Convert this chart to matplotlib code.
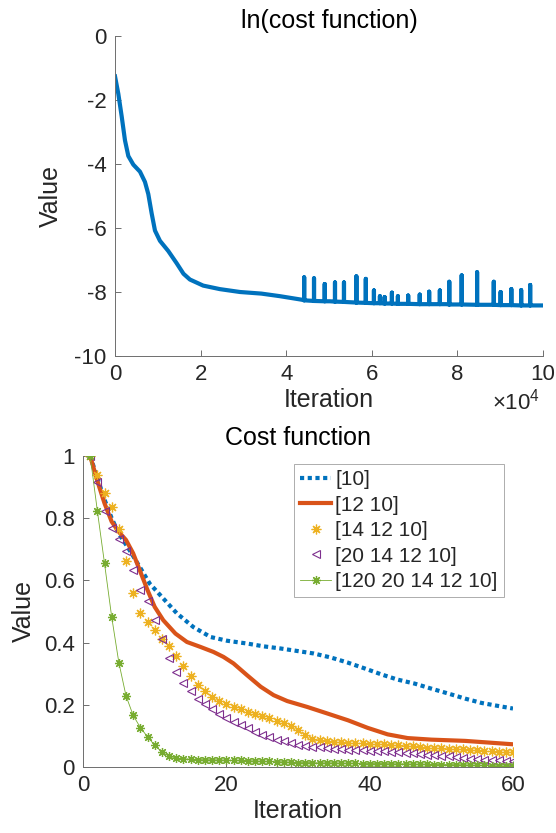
import numpy as np
import matplotlib
matplotlib.use("Agg")
import matplotlib.pyplot as plt
from matplotlib.ticker import FuncFormatter

plt.rcParams['font.family'] = ['Liberation Sans', 'DejaVu Sans']
plt.rcParams['axes.unicode_minus'] = False
plt.rcParams['mathtext.fontset'] = 'custom'
plt.rcParams['mathtext.rm'] = 'Liberation Sans'

# top panel: ln(cost) over training iterations
top_iter = [0, 780, 1560, 2330, 3110, 4280, 5840, 7000, 7780, 8560, 9340, 10500,
            12450, 14400, 16000, 17500, 20600, 24500, 29200, 34200, 38500, 43600,
            50200, 61900, 77400, 100000]
top_cost = [-1.26, -1.81, -2.51, -3.26, -3.75, -4.02, -4.24, -4.56, -4.94, -5.54,
            -6.08, -6.4, -6.72, -7.1, -7.43, -7.61, -7.8, -7.91, -8.0, -8.05,
            -8.13, -8.24, -8.29, -8.35, -8.38, -8.42]

spike_iter = [44200, 46500, 49000, 51400, 53500, 56400, 58600, 60500, 61900, 63000,
              64700, 66100, 68500, 71200, 73400, 75900, 78100, 81000, 84600, 88500,
              90100, 92600, 94900, 97000]
spike_peak = [-7.54, -7.57, -7.75, -7.7, -7.7, -7.51, -7.59, -7.95, -8.13, -8.16,
              -8.02, -8.13, -8.11, -8.08, -7.99, -7.95, -7.68, -7.48, -7.38, -7.68,
              -8.0, -7.91, -7.94, -7.78]
spike_floor = [-8.26, -8.28, -8.29, -8.3, -8.31, -8.33, -8.34, -8.35, -8.35, -8.36,
               -8.36, -8.37, -8.37, -8.38, -8.38, -8.38, -8.39, -8.39, -8.4, -8.4,
               -8.41, -8.41, -8.42, -8.42]

# bottom panel: normalised cost for different layer sizes
labels = ['[10]', '[12 10]', '[14 12 10]', '[20 14 12 10]', '[120 20 14 12 10]']

it_10 = [1, 2, 3, 4, 5, 6, 6.5, 7.9, 9.3, 11, 13.1, 15.4, 17.8, 20.1, 22.9, 25.2, 27.6,
         29.9, 32.2, 34.6, 36.9, 39.3, 41.6, 43.9, 46.3, 48.6, 51, 53.3, 55.6, 58, 60]
cost_10 = [1.0, 0.93, 0.86, 0.8, 0.75, 0.715, 0.697, 0.644, 0.59, 0.547, 0.494, 0.45,
           0.418, 0.406, 0.397, 0.388, 0.381, 0.373, 0.365, 0.352, 0.336, 0.317, 0.298,
           0.281, 0.268, 0.252, 0.236, 0.22, 0.206, 0.196, 0.188]

it_12 = [1, 2, 3, 4, 5, 6, 7, 8, 9, 10, 11.2, 12.9, 14.5, 16.4, 18.2, 19.6, 21, 22.9,
         24.8, 26.6, 28.5, 31.3, 34.1, 37, 39.7, 42.5, 45.3, 48.6, 53.3, 60]
cost_12 = [1.0, 0.92, 0.848, 0.789, 0.756, 0.73, 0.687, 0.628, 0.569, 0.515, 0.472,
           0.429, 0.402, 0.386, 0.37, 0.354, 0.333, 0.295, 0.258, 0.231, 0.212, 0.193,
           0.172, 0.15, 0.126, 0.105, 0.093, 0.088, 0.084, 0.073]

it_pts = list(range(1, 61))
cost_14 = [1.0, 0.94, 0.882, 0.837, 0.765, 0.662, 0.561, 0.496, 0.466, 0.44,
           0.41, 0.388, 0.356, 0.324, 0.292, 0.263, 0.245, 0.225, 0.212, 0.202,
           0.193, 0.186, 0.177, 0.17, 0.163, 0.156, 0.148, 0.142, 0.131, 0.12,
           0.102, 0.091, 0.086, 0.082, 0.08, 0.079, 0.078, 0.077, 0.076, 0.075,
           0.074, 0.073, 0.071, 0.07, 0.068, 0.066, 0.064, 0.062, 0.061, 0.06,
           0.059, 0.058, 0.057, 0.055, 0.054, 0.052, 0.051, 0.049, 0.048, 0.047]
cost_20 = [1.0, 0.915, 0.823, 0.767, 0.733, 0.694, 0.635, 0.569, 0.534, 0.474,
           0.412, 0.349, 0.304, 0.27, 0.245, 0.22, 0.202, 0.187, 0.172, 0.158,
           0.146, 0.135, 0.124, 0.113, 0.104, 0.096, 0.088, 0.082, 0.076, 0.071,
           0.068, 0.065, 0.063, 0.061, 0.059, 0.058, 0.056, 0.055, 0.054, 0.053,
           0.052, 0.05, 0.049, 0.048, 0.046, 0.044, 0.042, 0.04, 0.038, 0.036,
           0.034, 0.031, 0.029, 0.027, 0.026, 0.024, 0.022, 0.021, 0.019, 0.018]
cost_120 = [1.0, 0.824, 0.655, 0.483, 0.336, 0.229, 0.166, 0.127, 0.097, 0.07,
            0.048, 0.035, 0.029, 0.026, 0.025, 0.024, 0.023, 0.023, 0.022, 0.022,
            0.021, 0.021, 0.02, 0.019, 0.018, 0.018, 0.017, 0.016, 0.015, 0.014,
            0.014, 0.014, 0.013, 0.013, 0.013, 0.012, 0.012, 0.012, 0.011, 0.011,
            0.011, 0.011, 0.01, 0.01, 0.01, 0.009, 0.009, 0.009, 0.008, 0.008,
            0.008, 0.007, 0.007, 0.006, 0.006, 0.005, 0.004, 0.004, 0.003, 0.002]

blue = '#0072BD'
orange = '#D95319'
yellow = '#EDB120'
purple = '#7E2F8E'
green = '#77AC30'
axcol = '#6e6e6e'
txtcol = '#262626'
asterisk = (8, 2, 0)  # matlab style '*' (plus and cross)


def style_axes(ax):
    for s in ['top', 'right']:
        ax.spines[s].set_visible(False)
    for s in ['left', 'bottom']:
        ax.spines[s].set_color(axcol)
        ax.spines[s].set_linewidth(0.7)
    ax.tick_params(direction='in', length=4, width=0.7, color=axcol,
                   labelsize=16, labelcolor=txtcol, pad=6)


fig = plt.figure(figsize=(5.56, 8.33), dpi=100)

# ---- top: ln(cost function)
ax1 = fig.add_axes([115 / 556, 1 - 356 / 833, 428 / 556, 320 / 833])

# merge base curve and spikes into one line
xs = list(top_iter)
ys = list(top_cost)
for sx, sp, sf in zip(spike_iter, spike_peak, spike_floor):
    xs += [sx, sx, sx]
    ys += [sf, sp, sf]
order = np.argsort(np.array(xs), kind='stable')
ax1.plot(np.array(xs)[order], np.array(ys)[order], color=blue, lw=3,
         solid_joinstyle='round')

ax1.set_xlim(0, 100000)
ax1.set_ylim(-10, 0)
ax1.set_xticks(np.arange(0, 100001, 20000))
ax1.set_yticks(np.arange(-10, 1, 2))
ax1.xaxis.set_major_formatter(FuncFormatter(lambda v, p: '%g' % (v / 1e4)))
style_axes(ax1)
ax1.set_title('ln(cost function)', fontsize=18, color='black', pad=6)
ax1.set_xlabel('Iteration', fontsize=18, color=txtcol, labelpad=2)
ax1.set_ylabel('Value', fontsize=18, color=txtcol, labelpad=8)
ax1.text(0.993, -0.168, '×10$^{\\mathregular{4}}$', transform=ax1.transAxes,
         ha='right', va='baseline', fontsize=16, color=txtcol)

# ---- bottom: cost function
ax2 = fig.add_axes([83 / 556, 1 - 767 / 833, 430 / 556, 311 / 833])
ax2.plot(it_10, cost_10, color=blue, lw=3, linestyle=(0, (1, 0.85)),
         dash_capstyle='butt', label=labels[0])
ax2.plot(it_12, cost_12, color=orange, lw=3, label=labels[1])
ax2.plot(it_pts, cost_14, linestyle='none', marker=asterisk, ms=7, mew=0.9,
         color=yellow, label=labels[2])
ax2.plot(it_pts, cost_20, linestyle='none', marker='<', ms=5.5, mew=0.8,
         mfc='none', mec=purple, label=labels[3])
ax2.plot(it_pts, cost_120, color=green, lw=0.6, marker=asterisk, ms=6.5, mew=0.9,
         label=labels[4])

ax2.set_xlim(0, 60)
ax2.set_ylim(0, 1)
ax2.set_xticks([0, 20, 40, 60])
ax2.set_yticks([0, 0.2, 0.4, 0.6, 0.8, 1])
ax2.set_yticklabels(['0', '0.2', '0.4', '0.6', '0.8', '1'])
style_axes(ax2)
ax2.set_title('Cost function', fontsize=18, color='black', pad=8)
ax2.set_xlabel('Iteration', fontsize=18, color=txtcol, labelpad=2)
ax2.set_ylabel('Value', fontsize=18, color=txtcol, labelpad=6)

leg = ax2.legend(loc='upper right', bbox_to_anchor=((504 - 83) / 430, 1 - 8 / 311),
                 fontsize=15, frameon=True, fancybox=False, framealpha=1,
                 edgecolor='#a0a0a0', handlelength=1.5, handletextpad=0.2,
                 labelspacing=0.31, borderpad=0.3, borderaxespad=0, numpoints=1)
leg.get_frame().set_linewidth(0.6)
for t in leg.get_texts():
    t.set_color(txtcol)

fig.savefig('out.png', dpi=100)
